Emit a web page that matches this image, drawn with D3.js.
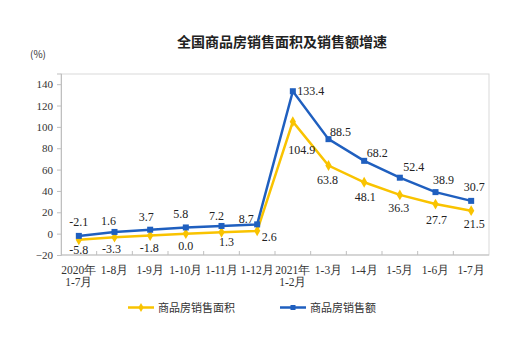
<!DOCTYPE html>
<html><head><meta charset="utf-8">
<script src="https://cdn.jsdelivr.net/npm/d3@7"></script>
<style>body{margin:0;background:#fff}svg{display:block}</style>
</head><body>
<svg id="c" width="525" height="344"></svg>
<script>
const categories = [["2020年","1-7月"],["1-8月"],["1-9月"],["1-10月"],["1-11月"],["1-12月"],["2021年","1-2月"],["1-3月"],["1-4月"],["1-5月"],["1-6月"],["1-7月"]];
const areaGrowth = [-5.8,-3.3,-1.8,0.0,1.3,2.6,104.9,63.8,48.1,36.3,27.7,21.5];
const amountGrowth = [-2.1,1.6,3.7,5.8,7.2,8.7,133.4,88.5,68.2,52.4,38.9,30.7];
const yTicks = [-20,0,20,40,60,80,100,120,140];
const seriesNames = ["商品房销售面积","商品房销售额"];
const title = "全国商品房销售面积及销售额增速";

// label offsets (layout only)
const amountLabelOff = [[0,-14],[-6,-11],[-4,-13],[-5,-13],[-5,-10],[-11,-5],[18,0],[12,-7],[13,-8],[14,-11],[8,-12],[3,-14]];
const areaLabelOff = [[0,10],[-3,12],[-1,12],[0,12],[5,10],[12,6],[9,28],[-1,14],[1,15],[-1,13],[1,16],[3,13]];

const svg = d3.select("#c");
const L=61,R=489,T=74,B=255;
const x = d3.scaleBand().domain(d3.range(categories.length)).range([L,R]).padding(0);
const y = d3.scaleLinear().domain([-20,150]).range([B,T-0.5]);
const blue="#1f5fbf", yellow="#f9c300";
const serif="'Liberation Serif','Times New Roman',serif";
const cjk="'Noto Sans CJK SC','Noto Sans',sans-serif";

svg.append("text").attr("x",282).attr("y",47).attr("text-anchor","middle")
  .attr("font-family",cjk).attr("font-size",14).attr("font-weight","bold").attr("fill","#222").text(title);
svg.append("text").attr("x",38).attr("y",58).attr("text-anchor","middle")
  .attr("font-family",cjk).attr("font-size",10).attr("fill","#333").text("(%)");

// box
svg.append("rect").attr("x",L).attr("y",T).attr("width",R-L).attr("height",B-T)
  .attr("fill","none").attr("stroke","#d9d9d9").attr("stroke-width",1);

// y axis
const ya = svg.append("g").attr("transform",`translate(${L},0)`)
  .call(d3.axisLeft(y).tickValues(yTicks).tickSize(4).tickPadding(4));
ya.select(".domain").attr("stroke","#bfbfbf");
ya.selectAll(".tick line").attr("stroke","#bfbfbf");
ya.selectAll("text").attr("font-family",serif).attr("font-size",11).attr("fill","#333");

// x axis ticks (boundaries, inward)
const bounds = d3.range(1,categories.length);
svg.append("g").selectAll("line").data(bounds).join("line")
  .attr("x1",d=>x(d)).attr("x2",d=>x(d)).attr("y1",B).attr("y2",B-4)
  .attr("stroke","#bfbfbf");
svg.append("line").attr("x1",L).attr("x2",R).attr("y1",B).attr("y2",B).attr("stroke","#bfbfbf");

// x labels
const xl = svg.append("g").selectAll("text").data(categories).join("text")
  .attr("text-anchor","middle").attr("font-family",serif).attr("font-size",11.5).attr("fill","#333")
  .attr("transform",(d,i)=>`translate(${x(i)+x.bandwidth()/2},274)`);
xl.selectAll("tspan").data(d=>d).join("tspan").attr("x",0).attr("dy",(d,i)=>i?12:0).text(d=>d);

const cx = i=>x(i)+x.bandwidth()/2;
const line = d3.line().x((d,i)=>cx(i)).y(d=>y(d));

svg.append("path").datum(areaGrowth).attr("d",line).attr("fill","none").attr("stroke",yellow).attr("stroke-width",2.5);
svg.append("path").datum(amountGrowth).attr("d",line).attr("fill","none").attr("stroke",blue).attr("stroke-width",2.5);

const diamond = d3.symbol().type(d3.symbolDiamond).size(34);
svg.append("g").selectAll("path").data(areaGrowth).join("path")
  .attr("d",diamond).attr("transform",(d,i)=>`translate(${cx(i)},${y(d)})`).attr("fill",yellow);
svg.append("g").selectAll("rect").data(amountGrowth).join("rect")
  .attr("x",(d,i)=>cx(i)-3).attr("y",d=>y(d)-3).attr("width",6).attr("height",6).attr("fill",blue);

// labels
svg.append("g").selectAll("text").data(amountGrowth).join("text")
  .attr("x",(d,i)=>cx(i)+amountLabelOff[i][0]).attr("y",(d,i)=>y(d)+amountLabelOff[i][1]+4)
  .attr("text-anchor","middle").attr("font-family",serif).attr("font-size",12).attr("fill","#222")
  .text(d=>d.toFixed(1));
svg.append("g").selectAll("text").data(areaGrowth).join("text")
  .attr("x",(d,i)=>cx(i)+areaLabelOff[i][0]).attr("y",(d,i)=>y(d)+areaLabelOff[i][1]+4)
  .attr("text-anchor","middle").attr("font-family",serif).attr("font-size",12).attr("fill","#222")
  .text(d=>d.toFixed(1));

// legend
const lg = [{c:yellow,x:128,sym:"d"},{c:blue,x:280,sym:"s"}];
lg.forEach((g,i)=>{
  const G = svg.append("g");
  G.append("line").attr("x1",g.x).attr("x2",g.x+26).attr("y1",307.5).attr("y2",307.5).attr("stroke",g.c).attr("stroke-width",2.5);
  if(g.sym==="d") G.append("path").attr("d",d3.symbol().type(d3.symbolDiamond).size(24)()).attr("transform",`translate(${g.x+13},307.5)`).attr("fill",g.c);
  else G.append("rect").attr("x",g.x+10.5).attr("y",305).attr("width",5).attr("height",5).attr("fill",g.c);
  G.append("text").attr("x",g.x+30).attr("y",311.5).attr("font-family",cjk).attr("font-size",11).attr("fill","#333").text(seriesNames[i]);
});
</script>
</body></html>
